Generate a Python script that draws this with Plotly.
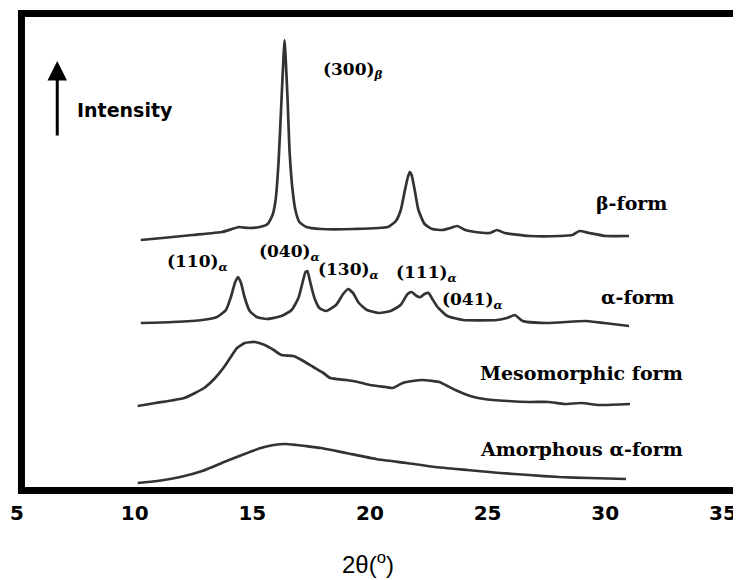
import plotly.graph_objects as go

# ---- data (2theta in degrees, stacked intensity in a.u.) ----
beta_2theta = [10.26, 11.18, 12.45, 13.71, 14.14, 14.43, 14.85, 15.32, 15.65, 15.86, 15.99, 16.12,
               16.24, 16.33, 16.37, 16.41, 16.50, 16.58, 16.71, 16.83, 17.00, 17.30, 17.93, 19.32,
               20.76, 21.10, 21.31, 21.47, 21.60, 21.69, 21.77, 21.90, 22.06, 22.32, 22.65, 23.08,
               23.41, 23.71, 24.05, 24.47, 25.10, 25.40, 25.73, 26.79, 28.05, 28.60, 28.90, 29.32,
               30.04, 31.01]
beta_int = [254, 256, 259, 262, 265, 267, 266, 267, 270, 279, 294, 334,
            394, 439, 454, 439, 394, 344, 304, 284, 272, 267, 265, 265,
            267, 273, 284, 302, 316, 322, 319, 304, 284, 270, 265, 264,
            266, 268, 264, 262, 261, 264, 261, 258, 258, 259, 263, 261,
            258, 258]

alpha_2theta = [10.26, 11.61, 12.87, 13.50, 13.88, 14.09, 14.26, 14.39, 14.52, 14.68, 14.89, 15.19,
                15.61, 16.24, 16.67, 16.96, 17.13, 17.26, 17.34, 17.47, 17.64, 17.85, 18.14, 18.56,
                18.86, 19.07, 19.28, 19.53, 19.87, 20.38, 20.88, 21.30, 21.60, 21.77, 21.98, 22.15,
                22.32, 22.49, 22.65, 22.87, 23.29, 23.96, 25.40, 25.82, 26.16, 26.49, 27.51, 29.19,
                29.95, 31.01]
alpha_int = [171, 172, 174, 177, 184, 197, 211, 217, 211, 196, 183, 177,
             175, 178, 184, 196, 211, 222, 223, 211, 196, 186, 183, 189,
             200, 205, 201, 191, 184, 181, 183, 189, 200, 202, 198, 197,
             200, 201, 195, 187, 178, 174, 174, 176, 179, 173, 171, 173,
             171, 168]

meso_2theta = [10.13, 10.89, 12.11, 12.95, 13.38, 13.80, 14.14, 14.35, 14.68, 15.11, 15.53, 15.91,
               16.24, 16.75, 17.17, 17.59, 18.02, 18.31, 18.99, 19.49, 20.00, 20.67, 20.97, 21.39,
               21.81, 22.23, 22.65, 22.95, 23.29, 23.63, 24.26, 24.85, 25.86, 26.79, 27.59, 28.26,
               28.98, 29.74, 31.05]
meso_int = [88, 91, 96, 106, 115, 127, 139, 146, 151, 152, 149, 144,
            139, 138, 133, 127, 121, 116, 114, 112, 109, 107, 106, 111,
            113, 114, 113, 112, 108, 104, 98, 95, 93, 92, 92, 90,
            91, 89, 90]

amor_2theta = [10.13, 10.97, 11.94, 12.87, 13.80, 14.56, 15.36, 15.91, 16.41, 16.88, 17.26, 17.93,
               18.99, 20.25, 21.56, 22.78, 24.13, 25.52, 26.75, 28.05, 29.32, 30.88]
amor_int = [11, 13, 17, 23, 32, 39, 46, 49, 50, 49, 48, 46,
            41, 35, 31, 27, 24, 21, 19, 17, 16, 15]

x_ticks = [5, 10, 15, 20, 25, 30, 35]

LINE = dict(color="#333333", width=2.7, shape="spline", smoothing=0.5)
SERIF = dict(family="DejaVu Serif", size=17, color="black", weight="bold")
SERIF_BIG = dict(family="DejaVu Serif", size=19, color="black", weight="bold")

fig = go.Figure()
for xs, ys in [(beta_2theta, beta_int), (alpha_2theta, alpha_int),
               (meso_2theta, meso_int), (amor_2theta, amor_int)]:
    fig.add_trace(go.Scatter(x=xs, y=ys, mode="lines", line=LINE, hoverinfo="skip"))

ann = []
# peak labels
for txt, x, y in [("(300)<sub><i>β</i></sub>", 17.93, 424),
                  ("(110)<sub><i>α</i></sub>", 11.27, 232),
                  ("(040)<sub><i>α</i></sub>", 15.19, 242),
                  ("(130)<sub><i>α</i></sub>", 17.72, 224),
                  ("(111)<sub><i>α</i></sub>", 21.01, 221),
                  ("(041)<sub><i>α</i></sub>", 22.99, 194)]:
    ann.append(dict(text=txt, x=x, y=y, xref="x", yref="y", xanchor="left", yanchor="middle",
                    showarrow=False, font=SERIF))
# curve names
for txt, x, y in [("β-form", 29.53, 291), ("α-form", 29.74, 197),
                  ("Mesomorphic form", 24.60, 121), ("Amorphous α-form", 24.60, 45)]:
    ann.append(dict(text=txt, x=x, y=y, xref="x", yref="y", xanchor="left", yanchor="middle",
                    showarrow=False, font=SERIF_BIG))
# intensity arrow + label
ann.append(dict(text="", x=6.71, y=433, xref="x", yref="y", showarrow=True, ax=0, ay=76,
                axref="pixel", ayref="pixel", arrowhead=2, arrowwidth=3, arrowsize=1.3,
                arrowcolor="black", standoff=0))
ann.append(dict(text="Intensity", x=7.47, y=384, xref="x", yref="y", xanchor="left",
                yanchor="middle", showarrow=False,
                font=dict(family="DejaVu Sans", size=19, color="black", weight="bold")))
# x-axis title
ann.append(dict(text="2θ(<sup>o</sup>)", x=0.487, y=-0.1426, xref="paper", yref="paper",
                xanchor="center", yanchor="middle", showarrow=False,
                font=dict(family="Liberation Sans", size=24, color="black")))

# the page body adds an 8 px margin, so the figure is 8 px smaller than the window
fig.update_layout(
    width=733, height=572,
    margin=dict(l=7, r=3, t=2, b=86),
    paper_bgcolor="white", plot_bgcolor="white",
    showlegend=False,
    annotations=ann,
    shapes=[dict(type="rect", xref="paper", yref="paper",
                 x0=0.0062, x1=0.9993, y0=0.0072, y1=0.9928,
                 line=dict(color="black", width=7), fillcolor="rgba(0,0,0,0)", layer="above")],
    xaxis=dict(range=[5, 35.64], tickvals=x_ticks, ticktext=[str(v) for v in x_ticks],
               showgrid=False, zeroline=False, showline=False,
               ticks="outside", ticklen=1, tickcolor="rgba(0,0,0,0)",
               tickfont=dict(family="DejaVu Sans", size=20, color="black", weight="bold"),
               fixedrange=True),
    yaxis=dict(range=[0, 484], visible=False, fixedrange=True),
)

fig.write_html("out.html")
